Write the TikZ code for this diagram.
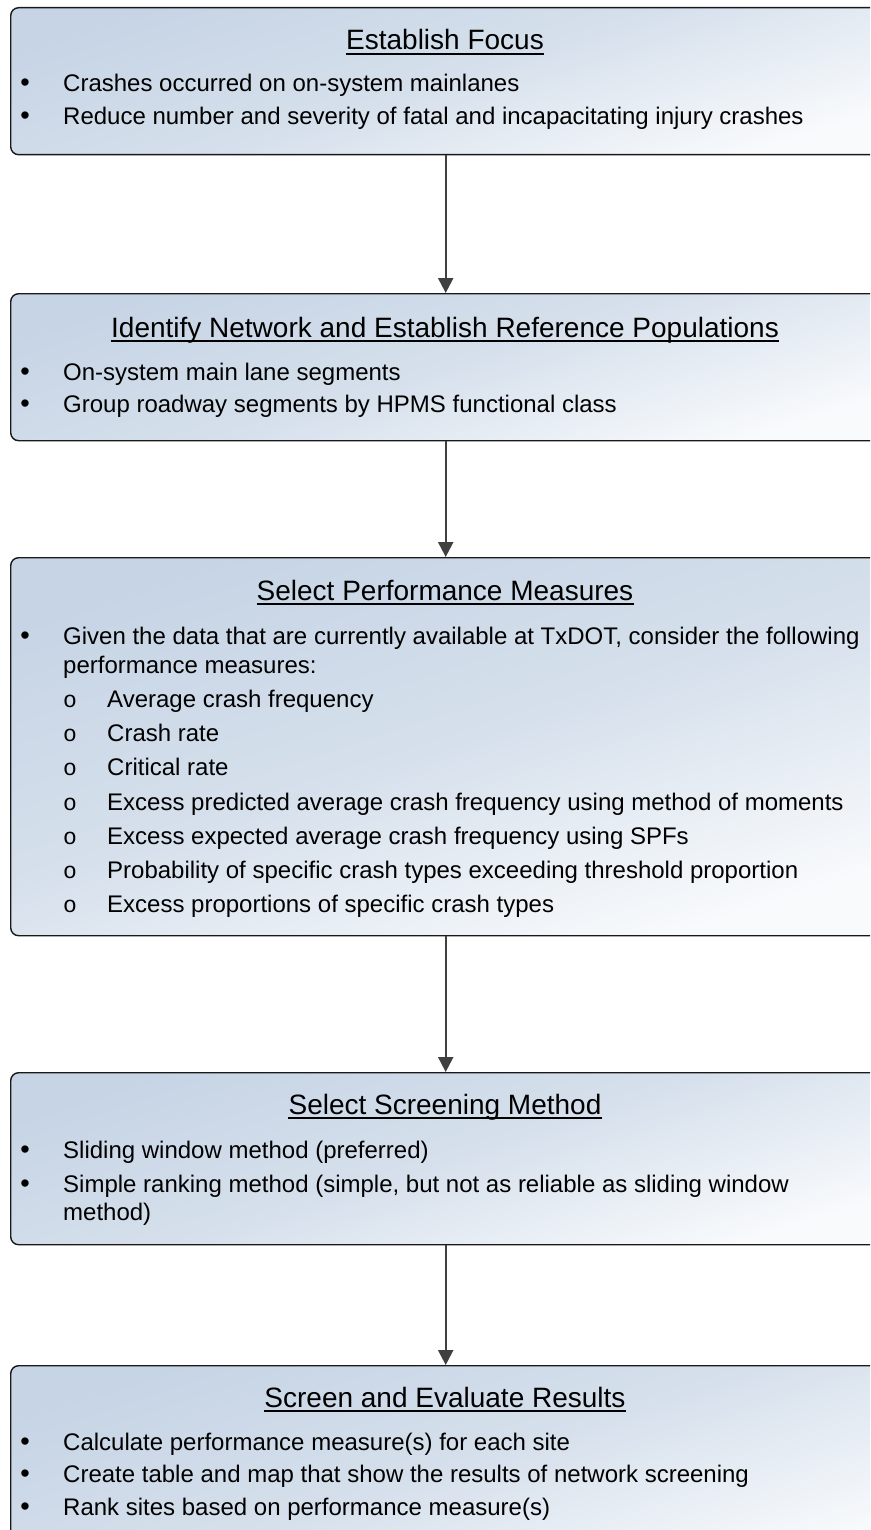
\documentclass[tikz,border=0pt]{standalone}
\usepackage{fontspec}
\setmainfont{Liberation Sans}
\newfontfamily\submark{Liberation Mono}
\usetikzlibrary{arrows.meta}

\definecolor{boxtop}{RGB}{198,212,229}
\definecolor{boxmid}{RGB}{214,224,236}
\definecolor{boxlow}{RGB}{248,250,252}
\definecolor{arrowgray}{RGB}{64,64,64}

\tikzset{
  stepbox/.style={draw=black!90, line width=1.4pt, rounded corners=8pt,
    shading=axis, top color=boxtop, bottom color=boxlow, middle color=boxmid,
    shading angle=18, minimum width=870pt, anchor=north west, inner sep=0pt},
  ttl/.style={anchor=base, inner sep=0pt, font=\fontsize{28}{32}\selectfont},
  ulin/.style={line width=1.3pt, black},
  body/.style={anchor=base west, inner sep=0pt, font=\fontsize{24}{28}\selectfont},
  bul/.style={anchor=base, inner sep=0pt, font=\fontsize{27}{28}\selectfont},
  sub/.style={anchor=base, inner sep=0pt, font=\fontsize{23}{26}\submark},
  flow/.style={draw=arrowgray, line width=2.2pt, -{Triangle[width=15pt,length=15pt]}}
}

\newcommand\titleline[1]{\draw[ulin] ([yshift=-4pt]#1.base west) -- ([yshift=-4pt]#1.base east);}

\begin{document}
\begin{tikzpicture}[x=1pt,y=-1pt]
\useasboundingbox (0,0) rectangle (870,1530);
\clip (0,0) rectangle (870,1530);
\fill[white] (0,0) rectangle (870,1530);

% ---- step boxes ----
\node[stepbox, minimum height=147pt] (b1) at (10,7) {};
\node[stepbox, minimum height=147pt] (b2) at (10,293) {};
\node[stepbox, minimum height=378pt] (b3) at (10,557) {};
\node[stepbox, minimum height=172pt] (b4) at (10,1072) {};
\node[stepbox, minimum height=210pt] (b5) at (10,1365) {};

% ---- connectors ----
\draw[flow] (b1.south) -- (b2.north);
\draw[flow] (b2.south) -- (b3.north);
\draw[flow] (b3.south) -- (b4.north);
\draw[flow] (b4.south) -- (b5.north);

% ---- Establish Focus ----
\node[ttl] (t1) at (445,50) {Establish Focus};
\titleline{t1}
\node[bul] (p1a) at (25,92) {•};
\node[body] (l1a) at (63,92) {Crashes occurred on on-system mainlanes};
\node[bul] (p1b) at (25,124.5) {•};
\node[body] (l1b) at (63,124.5) {Reduce number and severity of fatal and incapacitating injury crashes};

% ---- Identify Network ----
\node[ttl] (t2) at (445,337) {Identify Network and Establish Reference Populations};
\titleline{t2}
\node[bul] (p2a) at (25,380) {•};
\node[body] (l2a) at (63,380) {On-system main lane segments};
\node[bul] (p2b) at (25,412.5) {•};
\node[body] (l2b) at (63,412.5) {Group roadway segments by HPMS functional class};

% ---- Select Performance Measures ----
\node[ttl] (t3) at (445,600) {Select Performance Measures};
\titleline{t3}
\node[bul] (p3a) at (25,644) {•};
\node[body] (l3a) at (63,644) {Given the data that are currently available at TxDOT, consider the following};
\node[body] (l3b) at (63,673) {performance measures:};
\node[sub] (s3a) at (70,707) {o};
\node[body] (l3c) at (107,707) {Average crash frequency};
\node[sub] (s3b) at (70,741.3) {o};
\node[body] (l3d) at (107,741.3) {Crash rate};
\node[sub] (s3c) at (70,775.6) {o};
\node[body] (l3e) at (107,775.6) {Critical rate};
\node[sub] (s3d) at (70,810) {o};
\node[body] (l3f) at (107,810) {Excess predicted average crash frequency using method of moments};
\node[sub] (s3e) at (70,844.2) {o};
\node[body] (l3g) at (107,844.2) {Excess expected average crash frequency using SPFs};
\node[sub] (s3f) at (70,878.5) {o};
\node[body] (l3h) at (107,878.5) {Probability of specific crash types exceeding threshold proportion};
\node[sub] (s3g) at (70,912.8) {o};
\node[body] (l3i) at (107,912.8) {Excess proportions of specific crash types};

% ---- Select Screening Method ----
\node[ttl] (t4) at (445,1114) {Select Screening Method};
\titleline{t4}
\node[bul] (p4a) at (25,1158) {•};
\node[body] (l4a) at (63,1158) {Sliding window method (preferred)};
\node[bul] (p4b) at (25,1192) {•};
\node[body] (l4b) at (63,1192) {Simple ranking method (simple, but not as reliable as sliding window};
\node[body] (l4c) at (63,1220) {method)};

% ---- Screen and Evaluate Results ----
\node[ttl] (t5) at (445,1407) {Screen and Evaluate Results};
\titleline{t5}
\node[bul] (p5a) at (25,1450) {•};
\node[body] (l5a) at (63,1450) {Calculate performance measure(s) for each site};
\node[bul] (p5b) at (25,1482.5) {•};
\node[body] (l5b) at (63,1482.5) {Create table and map that show the results of network screening};
\node[bul] (p5c) at (25,1515) {•};
\node[body] (l5c) at (63,1515) {Rank sites based on performance measure(s)};
\end{tikzpicture}
\end{document}
